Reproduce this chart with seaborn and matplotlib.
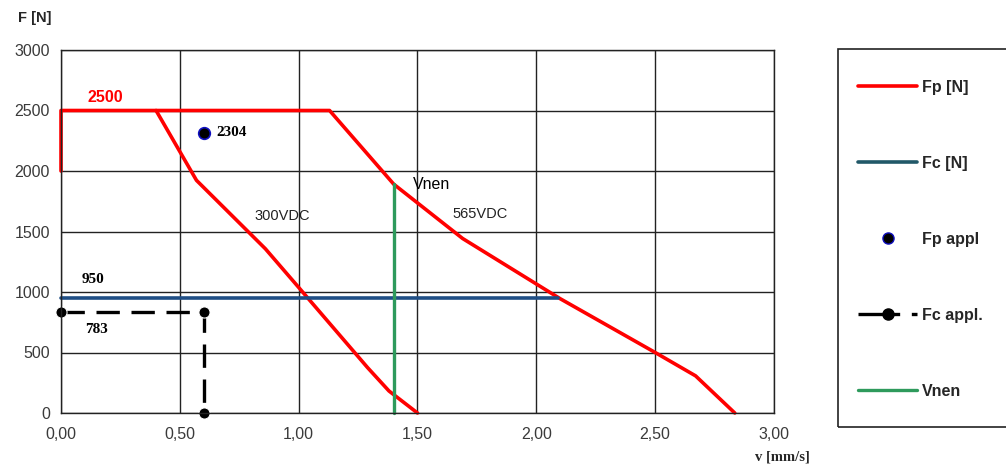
import matplotlib
matplotlib.use("Agg")
import matplotlib.pyplot as plt
import seaborn as sns
import pandas as pd
from matplotlib.lines import Line2D
from matplotlib.patches import Rectangle

# ---- data ----
fp_v = [0.0, 0.0, 1.13, 1.40, 1.69, 2.10, 2.50, 2.67, 2.835]
fp_f = [2000, 2500, 2500, 1891, 1442, 945, 500, 307, 0]

v300_v = [0.40, 0.57, 0.86, 1.00, 1.29, 1.38, 1.50]
v300_f = [2500, 1923, 1357, 1038, 375, 182, 0]

fc_v = [0.0, 2.09]
fc_f = [950, 950]

fpappl_v = [0.60]
fpappl_f = [2310]

fcappl_v = [0.0, 0.60, 0.60]
fcappl_f = [835, 835, 0]

vnen_v = [1.40, 1.40]
vnen_f = [0, 1891]

x_ticks = [0.0, 0.5, 1.0, 1.5, 2.0, 2.5, 3.0]
x_tick_labels = ["0,00", "0,50", "1,00", "1,50", "2,00", "2,50", "3,00"]
y_ticks = [0, 500, 1000, 1500, 2000, 2500, 3000]
legend_labels = ["Fp [N]", "Fc [N]", "Fp appl", "Fc appl.", "Vnen"]

RED = "#ff0000"
BLUE = "#1f4e85"
BLUE_LEG = "#215868"
GREEN = "#2e9a5c"

sns.set_style("white")
plt.rcParams["font.family"] = ["Liberation Sans", "DejaVu Sans"]

W, H = 1006, 466
fig = plt.figure(figsize=(W / 100, H / 100), dpi=100)
ax = fig.add_axes([61 / W, 1 - 413 / H, (774 - 61) / W, (413 - 50) / H])

def line(xs, ys, **kw):
    df = pd.DataFrame({"v": xs, "f": ys})
    sns.lineplot(data=df, x="v", y="f", sort=False, estimator=None, ax=ax, **kw)

line(fp_v, fp_f, color=RED, linewidth=2.6)
line(v300_v, v300_f, color=RED, linewidth=2.6)
line(fc_v, fc_f, color=BLUE, linewidth=2.6)
line(vnen_v, vnen_f, color=GREEN, linewidth=2.4)
line(fcappl_v, fcappl_f, color="black", linewidth=2.4, marker="o", markersize=8,
     dashes=(7, 3.5))
sns.scatterplot(x=fpappl_v, y=fpappl_f, ax=ax, color="black", edgecolor="#1010c0",
                s=70, linewidth=1.2, zorder=5)
for ln in ax.lines:
    ln.set_clip_on(False)

ax.set_xlim(0, 3.0)
ax.set_ylim(0, 3000)
ax.set_xticks(x_ticks)
ax.set_xticklabels(x_tick_labels)
ax.set_yticks(y_ticks)
ax.grid(True, color="#222222", linewidth=1.0)
ax.set_axisbelow(True)
for s in ax.spines.values():
    s.set_color("#222222")
    s.set_linewidth(1.0)
ax.tick_params(axis="both", length=4, width=1, color="#222222", labelsize=11.5,
               labelcolor="#3a3a3a", direction="out", pad=4)
ax.tick_params(axis="x", pad=6)
ax.set_xlabel("")
ax.set_ylabel("")

# axis titles
fig.text(18 / W, 1 - 18 / H, "F [N]", fontsize=10.5, fontweight="bold",
         va="center", ha="left")
fig.text(755 / W, 1 - 457 / H, "v [mm/s]", fontsize=10.5, fontweight="bold",
         va="center", ha="left", family=["Liberation Serif"])

# annotations
serif = ["Liberation Serif", "DejaVu Serif"]
ax.text(0.185, 2610, "2500", color=RED, fontsize=11.5, fontweight="bold",
        ha="center", va="center", family=["Liberation Sans"])
ax.text(0.655, 2320, "2304", color="black", fontsize=11, fontweight="bold",
        ha="left", va="center", family=serif)
ax.text(0.135, 1100, "950", color="black", fontsize=11, fontweight="bold",
        ha="center", va="center", family=serif)
ax.text(0.15, 690, "783", color="black", fontsize=11, fontweight="bold",
        ha="center", va="center", family=serif)
ax.text(0.93, 1630, "300VDC", color="#222222", fontsize=10.5,
        ha="center", va="center")
ax.text(1.765, 1645, "565VDC", color="#222222", fontsize=10.5,
        ha="center", va="center")
ax.text(1.48, 1885, "Vnen", color="black", fontsize=11.5,
        ha="left", va="center")

# legend box (extends past the right edge like the reference)
fig.patches.append(Rectangle((838 / W, 1 - 427 / H), (1020 - 838) / W, (427 - 49) / H,
                             transform=fig.transFigure, fill=False,
                             edgecolor="#222222", linewidth=1.2))
handles = [
    Line2D([], [], color=RED, linewidth=2.6),
    Line2D([], [], color=BLUE_LEG, linewidth=2.6),
    Line2D([], [], color="black", marker="o", markersize=8, markeredgecolor="#1010c0",
           linestyle="none"),
    Line2D([], [], color="black", marker="o", markersize=8, linewidth=2.4,
           dashes=(12.5, 3.5)),
    Line2D([], [], color=GREEN, linewidth=2.4),
]
leg = fig.legend(handles, legend_labels, loc="upper left",
                 bbox_to_anchor=(858 / W, 1 - 80 / H),
                 frameon=False, labelspacing=3.82, handlelength=3.7,
                 handletextpad=0.3, borderpad=0, borderaxespad=0,
                 prop={"weight": "bold", "size": 11.5})

fig.savefig("out.png", dpi=100)
